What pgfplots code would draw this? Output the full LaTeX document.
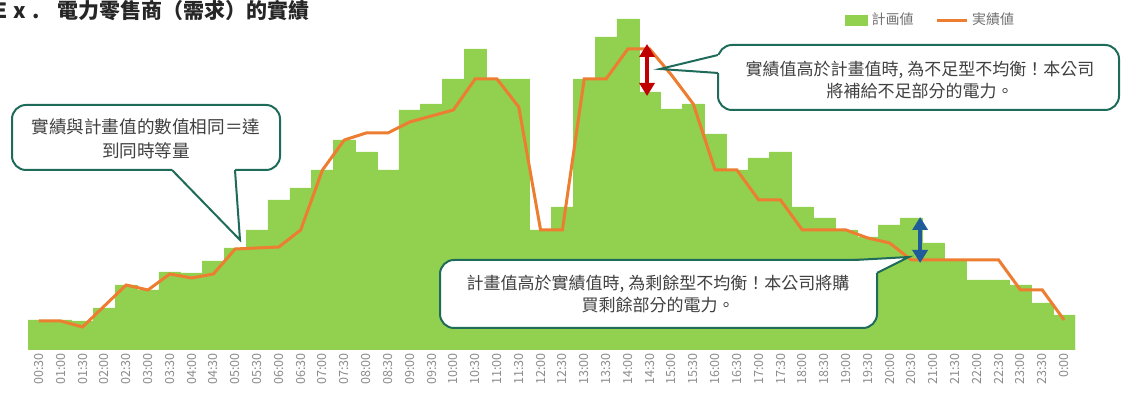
\documentclass[border=0pt]{standalone}
\usepackage{fontspec}
\setmainfont{Noto Sans CJK TC}
\usepackage{pgfplots}
\pgfplotsset{compat=1.18}
\usepackage{pgfplotstable}
\usetikzlibrary{arrows.meta}
\definecolor{barg}{HTML}{92D050}
\definecolor{lineo}{HTML}{ED7D31}
\definecolor{cborder}{HTML}{1F6B5A}
\definecolor{ctext}{HTML}{404040}
\definecolor{tickg}{HTML}{8C8C8C}
\definecolor{leggray}{HTML}{707070}
\definecolor{arrred}{HTML}{C00000}
\definecolor{arrblue}{HTML}{1F5C99}
\definecolor{titlec}{HTML}{262626}

\pgfplotstableread{
idx plan actual
0 30 29
1 30 29
2 29 23
3 42 44
4 65 65
5 60 60
6 78 76
7 77 72
8 89 76
9 102 101
10 120 102
11 150 103
12 162 120
13 180 180
14 210 210
15 198 217
16 180 217
17 240 228
18 246 234
19 271 240
20 301 271
21 271 271
22 271 243
23 120 120
24 143 120
25 271 271
26 313 271
27 331 301
28 258 301
29 241 275
30 246 246
31 216 180
32 180 180
33 192 150
34 198 150
35 143 120
36 132 120
37 120 120
38 113 112
39 125 107
40 132 90
41 107 90
42 90 90
43 70 90
44 70 90
45 65 60
46 47 60
47 35 30
}\datatable

\begin{document}
\begin{tikzpicture}[x=0.5pt,y=0.5pt]
\path[use as bounding box, clip] (0,0) rectangle (1121,394);
\begin{axis}[
  at={(14pt,22pt)}, anchor=south west,
  scale only axis, width=523.5pt, height=175pt,
  xmin=-0.5, xmax=47.5, ymin=0, ymax=350,
  axis line style={draw=none},
  major tick length=0pt,
  ytick=\empty,
  xtick={0,...,47},
  xticklabels={00:30,01:00,01:30,02:00,02:30,03:00,03:30,04:00,04:30,05:00,05:30,06:00,06:30,07:00,07:30,08:00,08:30,09:00,09:30,10:00,10:30,11:00,11:30,12:00,12:30,13:00,13:30,14:00,14:30,15:00,15:30,16:00,16:30,17:00,17:30,18:00,18:30,19:00,19:30,20:00,20:30,21:00,21:30,22:00,22:30,23:00,23:30,0:00},
  xticklabel style={rotate=90, anchor=east, font=\fontsize{6.3}{7}\selectfont, text=tickg, inner sep=1.5pt},
  legend style={at={(0.946,0.975)}, anchor=north east, draw=none, fill=none,
    legend columns=2, font=\fontsize{7}{8}\selectfont, text=leggray, inner sep=0pt,
    /tikz/every even column/.append style={column sep=9pt}},
  legend cell align=left,
]
\addplot[ybar, bar width=1, bar shift=0pt, fill=barg, draw=barg, line width=0.2pt,
  legend image code/.code={\fill[barg] (0pt,-2.5pt) rectangle (11pt,2.5pt);}]
  table[x=idx, y=plan] {\datatable};
\addlegendentry{計画値}
\addplot[lineo, line width=1.5pt, sharp plot, mark=none,
  legend image code/.code={\draw[lineo, line width=1.2pt] (0pt,0pt) -- (15pt,0pt);}]
  table[x=idx, y=actual] {\datatable};
\addlegendentry{実績値}
\draw[arrred, line width=2.4pt, {Triangle[width=7.5pt,length=6.5pt]}-{Triangle[width=7.5pt,length=6.5pt]}]
  (axis cs:27.88,254) -- (axis cs:27.88,306);
\draw[arrblue, line width=2.2pt, {Triangle[width=7.5pt,length=6.5pt]}-{Triangle[width=7.5pt,length=6.5pt]}]
  (axis cs:40.4,87) -- (axis cs:40.4,133);
\end{axis}

% title
\node[anchor=west, inner sep=0pt, font=\fontsize{10.5}{12}\selectfont\bfseries, text=titlec] at (57,383) {電力零售商（需求）的實績};
\node[anchor=east, inner sep=0pt, font=\fontsize{10.5}{12}\selectfont\bfseries, text=titlec] at (40,383) {E\hspace{3pt}x\hspace{3pt}.};

% callout 1
\filldraw[draw=cborder, fill=white, line width=1pt, rounded corners=7pt] (12,224) rectangle (280,289);
\fill[white] (172,226) -- (172,224) -- (240,154) -- (235,224) -- (235,226) -- cycle;
\draw[cborder, line width=1pt] (172,224) -- (240,154) -- (235,224);
\node[align=center, inner sep=0pt, text=ctext, font=\fontsize{8.8}{12}\selectfont] at (146,255) {實績與計畫值的數值相同＝達\\到同時等量};

% callout 2
\filldraw[draw=cborder, fill=white, line width=1pt, rounded corners=7pt] (718,284) rectangle (1119,349);
\fill[white] (720,339) -- (718,339) -- (660,325) -- (718,321) -- (720,321) -- cycle;
\draw[cborder, line width=1pt] (718,339) -- (660,325) -- (718,321);
\node[align=center, inner sep=0pt, text=ctext, font=\fontsize{8.5}{11}\selectfont] at (920,314) {實績值高於計畫值時, 為不足型不均衡！本公司\\將補給不足部分的電力。};

% callout 3
\filldraw[draw=cborder, fill=white, line width=1pt, rounded corners=7pt] (440,66) rectangle (877,134);
\fill[white] (855,134) -- (909,137) -- (877,121) -- (866,121) -- (855,131) -- cycle;
\draw[cborder, line width=1pt] (855,134) -- (909,137) -- (877,121);
\node[align=center, inner sep=0pt, text=ctext, font=\fontsize{8.5}{11}\selectfont] at (658,100) {計畫值高於實績值時, 為剩餘型不均衡！本公司將購\\買剩餘部分的電力。};
\end{tikzpicture}
\end{document}
